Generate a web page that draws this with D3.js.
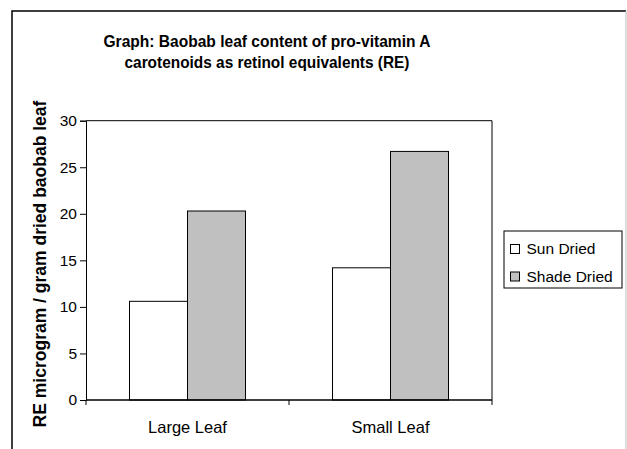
<!DOCTYPE html>
<meta charset="utf-8">
<style>
body { margin: 0; background: #fff; }
text { font-family: "Liberation Sans", Arial, sans-serif; }
</style>
<svg width="627" height="449"></svg>
<script src="https://d3js.org/d3.v7.min.js"></script>
<script>

var categories = ["Large Leaf", "Small Leaf"];
var seriesNames = ["Sun Dried", "Shade Dried"];
var sunDried = [10.6, 14.2];
var shadeDried = [20.3, 26.7];
var yTicks = [0, 5, 10, 15, 20, 25, 30];
var seriesColors = ["#ffffff", "#c0c0c0"];
var titleLines = ["Graph: Baobab leaf content of pro-vitamin A",
                  "carotenoids as retinol equivalents (RE)"];

var svg = d3.select("svg");

// outer chart frame (runs past the bottom of the picture)
svg.append("path")
   .attr("d", "M12,460 L12,11 L626,11")
   .attr("fill", "none")
   .attr("stroke", "#000")
   .attr("stroke-width", 1.5);
svg.append("line")
   .attr("x1", 626).attr("x2", 626)
   .attr("y1", 11).attr("y2", 460)
   .attr("stroke", "#bbb");

// title (reference glyphs are a little condensed)
var titleWidths = [327, 285];
svg.append("text")
   .attr("text-anchor", "middle")
   .attr("font-size", "16.5px")
   .attr("font-weight", "bold")
   .selectAll("tspan")
   .data(titleLines)
   .enter()
   .append("tspan")
   .attr("x", 267)
   .attr("y", function(d, i) { return 47 + i * 21; })
   .attr("textLength", function(d, i) { return titleWidths[i]; })
   .attr("lengthAdjust", "spacingAndGlyphs")
   .text(function(d) { return d; });

var plotLeft = 86, plotRight = 492, plotTop = 120.7, plotBottom = 400;

var x0 = d3.scaleBand()
   .domain(categories)
   .range([plotLeft, plotRight]);

var x1 = d3.scaleBand()
   .domain(seriesNames)
   .range([0, x0.bandwidth()])
   .paddingOuter(0.75);

var y = d3.scaleLinear()
   .domain([0, 30])
   .range([plotBottom, plotTop]);

// plot area border (top and right)
svg.append("path")
   .attr("d", "M" + plotLeft + "," + plotTop + " L" + plotRight + "," + plotTop + " L" + plotRight + "," + plotBottom)
   .attr("fill", "none")
   .attr("stroke", "#000")
   .attr("stroke-width", 1);

var rows = categories.map(function(c, i) {
  return [{cat: c, s: seriesNames[0], v: sunDried[i], c: seriesColors[0]},
          {cat: c, s: seriesNames[1], v: shadeDried[i], c: seriesColors[1]}];
});

svg.append("g")
   .selectAll("rect")
   .data(rows.flat())
   .enter()
   .append("rect")
   .attr("x", function(d) { return x0(d.cat) + x1(d.s); })
   .attr("y", function(d) { return y(d.v); })
   .attr("width", x1.bandwidth())
   .attr("height", function(d) { return plotBottom - y(d.v); })
   .attr("fill", function(d) { return d.c; })
   .attr("stroke", "#000")
   .attr("stroke-width", 1);

// y axis
var yAxis = svg.append("g")
   .attr("transform", "translate(" + plotLeft + ",0)")
   .call(d3.axisLeft(y).tickValues(yTicks).tickSize(6).tickPadding(3));
yAxis.selectAll("text").attr("font-size", "15.5px").attr("fill", "#000")
   .style("font-family", "Liberation Sans, Arial, sans-serif");
yAxis.selectAll("line").attr("stroke", "#000");
yAxis.select(".domain").attr("stroke", "#000");

// x axis with category boundary ticks
var xAxis = svg.append("g")
   .attr("transform", "translate(0," + plotBottom + ")");
xAxis.append("line")
   .attr("x1", plotLeft).attr("x2", plotRight)
   .attr("stroke", "#000").attr("stroke-width", 1.5);
xAxis.selectAll("line.tk")
   .data(categories.concat([null]))
   .enter()
   .append("line")
   .attr("class", "tk")
   .attr("x1", function(d) { return d ? x0(d) : plotRight; })
   .attr("x2", function(d) { return d ? x0(d) : plotRight; })
   .attr("y1", 0).attr("y2", 5)
   .attr("stroke", "#000");
xAxis.selectAll("text")
   .data(categories)
   .enter()
   .append("text")
   .attr("x", function(d) { return x0(d) + x0.bandwidth() / 2; })
   .attr("y", 33)
   .attr("text-anchor", "middle")
   .attr("font-size", "16.5px")
   .text(function(d) { return d; });

// y axis title
svg.append("text")
   .attr("transform", "translate(46,264) rotate(-90)")
   .attr("text-anchor", "middle")
   .attr("font-size", "17.5px")
   .attr("font-weight", "bold")
   .text("RE microgram / gram dried baobab leaf");

// legend
var legend = svg.append("g");
legend.append("rect")
   .attr("x", 504).attr("y", 231)
   .attr("width", 118).attr("height", 57)
   .attr("fill", "#fff")
   .attr("stroke", "#000");
var items = legend.selectAll("g")
   .data(seriesNames)
   .enter()
   .append("g")
   .attr("transform", function(d, i) { return "translate(510.5," + (244.5 + i * 27.5) + ")"; });
items.append("rect")
   .attr("width", 9).attr("height", 9)
   .attr("fill", function(d, i) { return seriesColors[i]; })
   .attr("stroke", "#000");
items.append("text")
   .attr("x", 16).attr("y", 9.5)
   .attr("font-size", "15.5px")
   .text(function(d) { return d; });

</script>
